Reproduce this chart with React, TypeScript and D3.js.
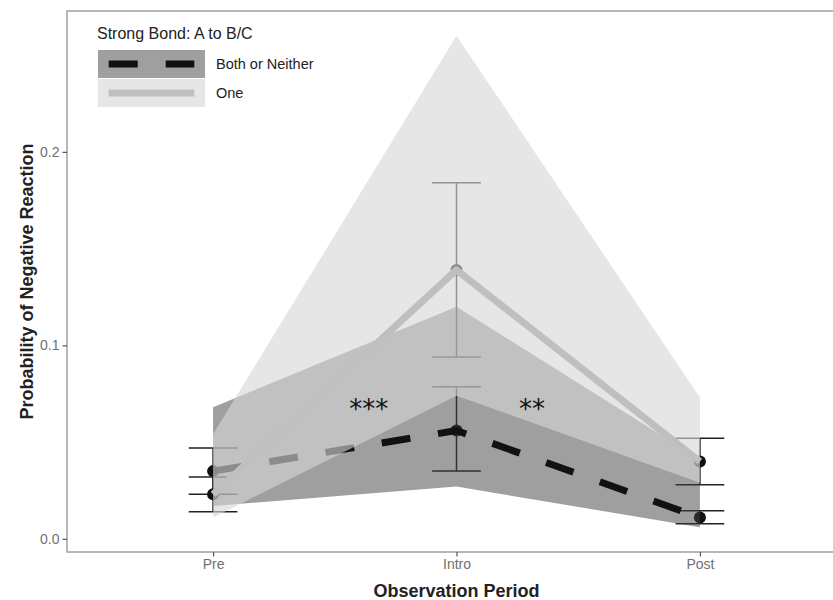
import React, { useEffect, useRef } from 'react';
import * as d3 from 'd3';

// observation periods on the x axis
const periods = ['Pre', 'Intro', 'Post'];
const groupNames = ['Both or Neither', 'One'];

// Both or Neither
const bothMean = [0.035, 0.056, 0.011];
const bothErrLo = [0.023, 0.035, 0.0078];
const bothErrHi = [0.047, 0.0786, 0.0145];
const bothBandLo = [0.017, 0.027, 0.006];
const bothBandHi = [0.068, 0.12, 0.041];

// One
const oneMean = [0.023, 0.139, 0.04];
const oneErrLo = [0.014, 0.094, 0.028];
const oneErrHi = [0.032, 0.184, 0.052];
const oneBandLo = [0.011, 0.074, 0.029];
const oneBandHi = [0.054, 0.26, 0.073];

const yTicks = [0, 0.1, 0.2];

// significance stars (x in period-index units)
const starLabels = ['***', '**'];
const starX = [0.64, 1.31];
const starY = [0.07, 0.07];

const W = 833;
const H = 600;
const font = 'Liberation Sans, Arial, sans-serif';

const styles = {
  'Both or Neither': { band: '#404040', bandOpacity: 0.5, line: '#111', dash: '29,28' },
  One: { band: '#d6d6d6', bandOpacity: 0.62, line: '#bfbfbf', dash: null },
};

const App = () => {
  const ref = useRef(null);

  useEffect(() => {
    const svg = d3.select(ref.current);
    svg.selectAll('*').remove();

    const panel = { left: 67, right: 846, top: 11, bottom: 552 };

    const x = d3.scalePoint().domain(periods).range([panel.left, panel.right]).padding(0.6);
    const y = d3.scaleLinear().domain([-0.0068, 0.2728]).range([panel.bottom, panel.top]);
    const xi = (v) => x(periods[0]) + v * x.step();

    const groups = [
      { name: groupNames[0], mean: bothMean, lo: bothErrLo, hi: bothErrHi, bLo: bothBandLo, bHi: bothBandHi },
      { name: groupNames[1], mean: oneMean, lo: oneErrLo, hi: oneErrHi, bLo: oneBandLo, bHi: oneBandHi },
    ];

    const plot = svg.append('g');

    // error bars
    const capW = x.step() * 0.1;
    groups.forEach(g => {
      periods.forEach((p, i) => {
        const eb = plot.append('g').attr('stroke', '#222').attr('stroke-width', 1.5);
        eb.append('line').attr('x1', x(p)).attr('x2', x(p)).attr('y1', y(g.lo[i])).attr('y2', y(g.hi[i]));
        eb.append('line').attr('x1', x(p) - capW).attr('x2', x(p) + capW).attr('y1', y(g.lo[i])).attr('y2', y(g.lo[i]));
        eb.append('line').attr('x1', x(p) - capW).attr('x2', x(p) + capW).attr('y1', y(g.hi[i])).attr('y2', y(g.hi[i]));
      });
    });

    // points
    groups.forEach(g => {
      plot.selectAll(null)
        .data(periods)
        .enter().append('circle')
        .attr('cx', p => x(p))
        .attr('cy', (p, i) => y(g.mean[i]))
        .attr('r', 6)
        .attr('fill', '#111');
    });

    // ribbons + lines, one group at a time
    groups.forEach(g => {
      const st = styles[g.name];
      const area = d3.area()
        .x((p) => x(p))
        .y0((p, i) => y(g.bLo[i]))
        .y1((p, i) => y(g.bHi[i]));
      plot.append('path')
        .attr('d', area(periods))
        .attr('fill', st.band)
        .attr('fill-opacity', st.bandOpacity);

      const line = d3.line()
        .x((p) => x(p))
        .y((p, i) => y(g.mean[i]));
      plot.append('path')
        .attr('d', line(periods))
        .attr('fill', 'none')
        .attr('stroke', st.line)
        .attr('stroke-width', 7)
        .attr('stroke-linejoin', 'round')
        .attr('stroke-dasharray', st.dash);
    });

    // stars
    plot.selectAll(null)
      .data(starLabels)
      .enter().append('text')
      .attr('x', (d, i) => xi(starX[i]))
      .attr('y', (d, i) => y(starY[i]) + 15)
      .attr('text-anchor', 'middle')
      .style('font-family', 'DejaVu Sans, sans-serif')
      .style('font-size', '26px')
      .attr('fill', '#111')
      .text(d => d);

    // panel border
    svg.append('rect')
      .attr('x', panel.left).attr('y', panel.top)
      .attr('width', panel.right - panel.left).attr('height', panel.bottom - panel.top)
      .attr('fill', 'none').attr('stroke', '#999').attr('stroke-width', 1.4);

    // axes
    const yAxis = svg.append('g')
      .attr('transform', `translate(${panel.left},0)`)
      .call(d3.axisLeft(y).tickValues(yTicks).tickFormat(d3.format('.1f')).tickSize(4.5).tickPadding(3));
    const xAxis = svg.append('g')
      .attr('transform', `translate(0,${panel.bottom})`)
      .call(d3.axisBottom(x).tickSize(4.5).tickPadding(3));
    [yAxis, xAxis].forEach(a => {
      a.select('.domain').remove();
      a.selectAll('line').attr('stroke', '#555').attr('stroke-width', 1.2);
      a.selectAll('text')
        .attr('fill', '#707070')
        .style('font-family', font)
        .style('font-size', '14px');
    });

    // axis titles
    svg.append('text')
      .attr('x', (panel.left + panel.right) / 2)
      .attr('y', 597)
      .attr('text-anchor', 'middle')
      .style('font-family', font).style('font-size', '18px').style('font-weight', 'bold')
      .attr('fill', '#222')
      .text('Observation Period');
    svg.append('text')
      .attr('transform', `translate(33,${(panel.top + panel.bottom) / 2}) rotate(-90)`)
      .attr('text-anchor', 'middle')
      .style('font-family', font).style('font-size', '18px').style('font-weight', 'bold')
      .attr('fill', '#222')
      .text('Probability of Negative Reaction');

    // legend
    const lg = svg.append('g').attr('transform', 'translate(97,0)');
    lg.append('text')
      .attr('x', 0).attr('y', 39)
      .style('font-family', font).style('font-size', '16px')
      .attr('fill', '#222')
      .text('Strong Bond: A to B/C');
    const keyW = 107;
    const keyH = 28;
    groupNames.forEach((name, i) => {
      const st = styles[name];
      const ky = 50 + i * (keyH + 1);
      const k = lg.append('g').attr('transform', `translate(1,${ky})`);
      k.append('rect').attr('width', keyW).attr('height', keyH).attr('fill', '#fff');
      k.append('rect').attr('width', keyW).attr('height', keyH)
        .attr('fill', st.band).attr('fill-opacity', st.bandOpacity);
      k.append('line')
        .attr('x1', keyW * 0.1).attr('x2', keyW * 0.9)
        .attr('y1', keyH / 2).attr('y2', keyH / 2)
        .attr('stroke', st.line).attr('stroke-width', 7)
        .attr('stroke-dasharray', st.dash);
      lg.append('text')
        .attr('x', 119).attr('y', ky + keyH / 2 + 5)
        .style('font-family', font).style('font-size', '14.5px')
        .attr('fill', '#222')
        .text(name);
    });
  }, []);

  return (
    <svg ref={ref} width={W} height={H}
      style={{ position: 'absolute', left: 0, top: 0, background: '#fff' }} />
  );
};

export default App;
